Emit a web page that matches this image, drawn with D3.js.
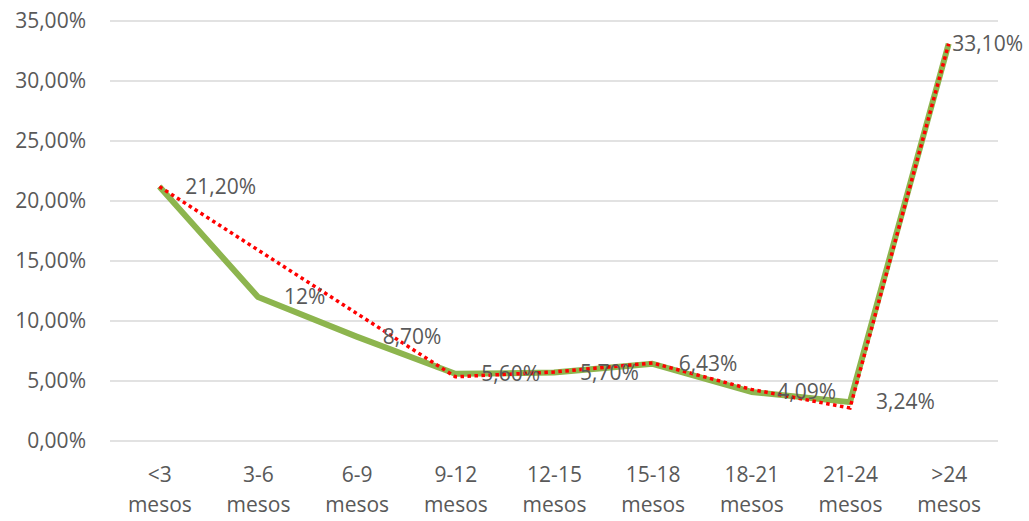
<!DOCTYPE html>
<html>
<head>
<meta charset="utf-8">
<script src="https://cdn.jsdelivr.net/npm/d3@7"></script>
<style>
  html, body { margin: 0; padding: 0; background: #fff; }
  svg { display: block; }
  text { font-family: "Open Sans", "Liberation Sans", sans-serif; fill: #595959; }
</style>
</head>
<body>
<div id="viz"></div>
<script>
(function() {

// Categories (two-line tick labels)
const categories = ["<3", "3-6", "6-9", "9-12", "12-15", "15-18", "18-21", "21-24", ">24"];
const categorySuffix = "mesos";

// Main series (green), with its data labels
const values = [21.2, 12, 8.7, 5.6, 5.7, 6.43, 4.09, 3.24, 33.1];
const valueLabels = ["21,20%", "12%", "8,70%", "5,60%", "5,70%", "6,43%", "4,09%", "3,24%", "33,10%"];

// Second series (red dotted), gaps skipped
const values2 = [21.2, null, null, 5.35, 5.75, 6.5, 4.3, 2.75, 33.1];

// Y axis ticks
const yTicks = [0, 5, 10, 15, 20, 25, 30, 35];

let canvasWidth = 1029;
let canvasHeight = 521;
let plotLeft = 110;
let plotRight = 998;
let plotTop = 21;
let plotBottom = 441;
let fontSize = 21;

let svg = d3.select("#viz").append("svg")
  .attr("width", canvasWidth)
  .attr("height", canvasHeight);

let x = d3.scalePoint()
  .domain(categories)
  .range([plotLeft, plotRight])
  .padding(0.5);

let y = d3.scaleLinear()
  .domain([0, 35])
  .range([plotBottom, plotTop]);

function fmtPct(v) {
  return v.toFixed(2).replace(".", ",") + "%";
}

// Gridlines
svg.append("g")
  .selectAll("line")
  .data(yTicks)
  .enter().append("line")
    .attr("x1", plotLeft)
    .attr("x2", plotRight)
    .attr("y1", (d) => y(d))
    .attr("y2", (d) => y(d))
    .attr("stroke", "#d9d9d9")
    .attr("stroke-width", 1.3);

// Y axis labels
let yAxis = svg.append("g")
  .attr("transform", "translate(86,0)")
  .call(d3.axisLeft(y).tickValues(yTicks).tickFormat(fmtPct).tickSize(0).tickPadding(0));
yAxis.select(".domain").remove();
yAxis.selectAll("text")
  .attr("font-size", fontSize)
  .attr("font-family", null)
  .attr("fill", "#595959");

// X axis labels
let xAxis = svg.append("g")
  .attr("transform", "translate(0," + plotBottom + ")")
  .call(d3.axisBottom(x).tickSize(0).tickFormat(""));
xAxis.select(".domain").remove();
xAxis.selectAll(".tick").each(function(d) {
  let t = d3.select(this).append("text")
    .attr("text-anchor", "middle")
    .attr("font-size", fontSize)
    .attr("fill", "#595959");
  t.append("tspan").attr("x", 0).attr("y", 41).text(d);
  t.append("tspan").attr("x", 0).attr("y", 71).text(categorySuffix);
});

// Green series
let mainData = categories.map((c, i) => ({ cat: c, v: values[i], label: valueLabels[i] }));
svg.append("path")
  .datum(mainData)
  .attr("d", d3.line().x((d) => x(d.cat)).y((d) => y(d.v)))
  .attr("fill", "none")
  .attr("stroke", "#8db54e")
  .attr("stroke-width", 6)
  .attr("stroke-linejoin", "round");

// Red dotted series (connect across gaps)
let redData = categories
  .map((c, i) => ({ cat: c, v: values2[i] }))
  .filter((d) => d.v !== null);
svg.append("path")
  .datum(redData)
  .attr("d", d3.line().x((d) => x(d.cat)).y((d) => y(d.v)))
  .attr("fill", "none")
  .attr("stroke", "#ff0000")
  .attr("stroke-width", 3.5)
  .attr("stroke-dasharray", "3.5,3.5");

// Data labels, to the right of points
svg.append("g")
  .selectAll("text")
  .data(mainData)
  .enter().append("text")
    .attr("x", (d) => x(d.cat) + 26)
    .attr("y", (d) => y(d.v))
    .attr("dy", "0.35em")
    .attr("font-size", fontSize)
    .attr("fill", "#404040")
    .text((d) => d.label)
    .each(function() {
      // keep the label inside the chart area
      let w = this.getComputedTextLength();
      let xPos = +d3.select(this).attr("x");
      if (xPos + w > canvasWidth - 6) {
        d3.select(this).attr("x", canvasWidth - 6 - w);
      }
    });

})();
</script>
</body>
</html>
